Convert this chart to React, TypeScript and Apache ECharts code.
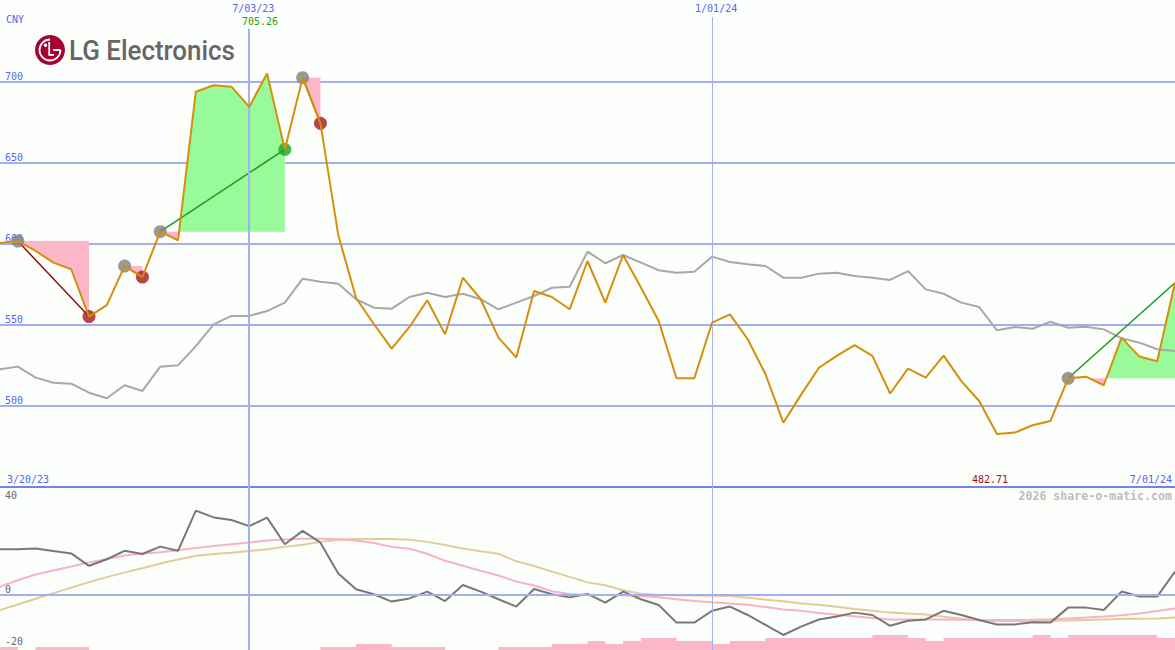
import React, { useEffect, useRef } from 'react';
import * as echarts from 'echarts';

// ---------- data (week index 0 = 3/20/23, 67 = 7/01/24) ----------
const startLabel = '3/20/23';
const endLabel = '7/01/24';
const currency = 'CNY';
const markerIdx = [15, 41];
const markerLabels = ['7/03/23', '1/01/24'];
const upperTicks = [500, 550, 600, 650, 700];
const lowerTicks = [-20, 0, 40];

const price = [598.0, 600.6, 601.8, 595.7, 588.5, 584.4, 555.2, 562.3, 586.4, 579.6,
  607.6, 602.3, 694.0, 698.0, 697.1, 684.6, 705.26, 658.4, 702.7, 674.5,
  605.6, 566.7, 550.6, 535.4, 548.8, 565.3, 544.3, 579.2, 565.9, 542.2,
  529.9, 571.0, 567.3, 559.7, 589.5, 563.8, 593.2, 573.1, 552.5, 517.1,
  517.1, 551.5, 556.6, 541.2, 519.6, 489.7, 507.0, 523.6, 530.9, 537.6,
  530.9, 507.7, 523.1, 517.5, 531.1, 515.4, 503.1, 482.71, 483.6, 488.1,
  490.7, 517.1, 518.1, 512.8, 542.2, 530.5, 527.6, 576.1];

const movingAvg = [523, 522.7, 524.3, 517.5, 514.4, 513.8, 508.2, 504.8, 512.8, 509.3,
  524.3, 525.1, 537.0, 550.4, 555.6, 555.6, 558.6, 563.8, 578.6, 576.7,
  575.5, 565.9, 560.7, 560.1, 567.3, 569.9, 567.3, 569.3, 565.9, 559.7,
  563.8, 567.9, 573.0, 573.6, 595.3, 588.1, 593.2, 588.5, 583.8, 582.3,
  582.9, 592.2, 588.9, 587.5, 586.4, 579.2, 579.2, 581.7, 582.3, 580.2,
  579.2, 577.8, 583.3, 572.0, 569.3, 563.8, 561.1, 546.7, 548.8, 547.7,
  552.0, 548.3, 548.9, 547.3, 541.8, 539.1, 535.0, 534.0];

const momentum = [17.5, 17.4, 17.4, 17.7, 16.7, 15.8, 11.1, 13.6, 16.8, 15.6,
  18.4, 16.8, 32.1, 29.5, 28.5, 26.2, 29.4, 19.3, 24.4, 19.9,
  8.2, 2.2, 0.3, -2.5, -1.3, 1.3, -2.3, 3.8, 1.3, -1.6,
  -4.4, 2.3, 0.3, -0.9, 0.4, -2.9, 1.3, -1.6, -3.8, -10.5,
  -10.5, -6.0, -4.4, -7.6, -11.4, -15.2, -12.0, -9.3, -8.2, -6.7,
  -7.6, -11.7, -9.8, -9.3, -6.0, -7.6, -9.5, -11.2, -11.2, -10.4,
  -10.5, -4.8, -4.8, -5.7, 1.3, -0.6, -0.6, 8.9];

const fastAvg = [1.0, 3.2, 5.6, 7.8, 9.3, 10.8, 12.4, 13.7, 15.0, 15.8,
  16.3, 17.0, 17.9, 18.6, 19.3, 20.0, 20.7, 21.1, 21.4, 21.4,
  21.2, 20.7, 19.8, 18.3, 17.6, 15.7, 13.0, 11.1, 9.2, 7.4,
  5.1, 3.6, 1.4, 0.4, 0, 0, -0.1, -0.4, -0.9, -1.6,
  -2.3, -2.8, -3.2, -3.7, -4.6, -5.5, -6.0, -6.8, -7.5, -8.1,
  -8.7, -9.3, -9.3, -9.3, -9.3, -9.4, -9.5, -9.5, -9.5, -9.4,
  -9.2, -8.9, -8.6, -8.2, -7.7, -7.0, -6.1, -5.1];

const slowAvg = [-8.0, -5.7, -3.6, -1.4, 0.7, 2.8, 4.9, 6.8, 8.6, 10.2,
  12.0, 13.5, 14.9, 15.6, 16.1, 16.7, 17.4, 18.3, 19.1, 20.2,
  21.0, 21.3, 21.3, 21.3, 21.0, 20.2, 19.0, 17.7, 16.6, 15.7,
  12.8, 11.0, 8.9, 6.9, 4.8, 3.7, 1.8, 0.5, 0, -0.1,
  -0.2, -0.3, -0.4, -1.0, -1.8, -2.4, -3.2, -3.7, -4.5, -5.3,
  -6.0, -6.7, -7.0, -7.4, -8.3, -9.0, -9.6, -9.9, -9.9, -9.9,
  -9.8, -9.7, -9.5, -9.3, -9.1, -9.0, -8.9, -8.6];

const volumeLevel = [1, 1, 0, 1, 1, 1, 0, 0, 0, 0, 0, 0, 0, 0, 0, 0, 0, 0, 0,
  1, 1, 2, 2, 1, 1, 1, 0, 0, 0, 1, 1, 1, 2, 2, 3, 2, 3, 4, 4,
  3, 3, 2, 3, 3, 4, 4, 4, 4, 4, 4, 5, 5, 4, 3, 4, 4, 4, 4, 4,
  5, 4, 5, 5, 5, 5, 5, 4, 4];

const tradeEntry = [2, 8, 10, 18, 61];
const tradeExit = [6, 9, 17, 19, 67];
const tradeClosed = [true, true, true, true, false];

// ---------- styles ----------
const BG = '#fcfefc';
const BLUE = '#5468ee';
const GRID = '#a3aff2';
const SEP = '#7383ea';
const ORANGE = '#d4900c';
const MA_GREY = '#a8a8a8';
const DARK = '#787878';
const PINK_LINE = '#f8b2c6';
const TAN = '#e4cb9b';
const PINK_FILL = '#fbb6c9';
const GREEN_FILL = '#98fa98';
const GREEN_LINE = '#1e9b1e';
const RED_LINE = '#8c1212';
const RED_DOT = '#a21a1a';
const GREEN_DOT = '#22a022';
const GREY_DOT = '#7f7f7f';
const MONO = '"DejaVu Sans Mono", monospace';

const idx = price.map((_, i) => i);
const pairs = (arr: number[]) => arr.map((v, i) => [idx[i], v]);

function tradeFill(a: number, b: number) {
  const e = price[a];
  const pts: number[][] = [];
  for (let i = a; i <= b; i++) {
    if (i > a) {
      const p0 = price[i - 1];
      const p1 = price[i];
      if ((p0 - e) * (p1 - e) < 0) {
        const t = (e - p0) / (p1 - p0);
        pts.push([i - 1 + t, e]);
      }
    }
    pts.push([i, price[i]]);
  }
  return {
    e,
    up: pts.map(([x, y]) => [x, Math.max(y, e)]),
    dn: pts.map(([x, y]) => [x, Math.min(y, e)]),
  };
}

function buildOption(): any {
  const series: any[] = [];
  tradeEntry.forEach((a, k) => {
    const f = tradeFill(a, tradeExit[k]);
    series.push({
      type: 'line', xAxisIndex: 0, yAxisIndex: 0, data: f.up, symbol: 'none', silent: true,
      lineStyle: { width: 0 }, areaStyle: { color: GREEN_FILL, opacity: 1, origin: f.e }, z: 1,
    });
    series.push({
      type: 'line', xAxisIndex: 0, yAxisIndex: 0, data: f.dn, symbol: 'none', silent: true,
      lineStyle: { width: 0 }, areaStyle: { color: PINK_FILL, opacity: 1, origin: f.e }, z: 1,
    });
  });

  series.push({
    type: 'line', xAxisIndex: 0, yAxisIndex: 0, data: pairs(movingAvg), symbol: 'none',
    lineStyle: { color: MA_GREY, width: 2 }, z: 2, silent: true,
    markLine: {
      silent: true, symbol: ['none', 'none'], label: { show: false },
      lineStyle: { color: GRID, type: 'solid' },
      data: markerIdx.map((v, k) => [
        { coord: [v, 450], lineStyle: { width: k === 0 ? 2 : 1, color: GRID, type: 'solid' } },
        { coord: [v, k === 0 ? 733 : 740] },
      ]),
    },
  });

  tradeEntry.forEach((a, k) => {
    const b = tradeExit[k];
    series.push({
      type: 'line', xAxisIndex: 0, yAxisIndex: 0, symbol: 'none', silent: true, z: 3,
      data: [[a, price[a]], [b, price[b]]],
      lineStyle: { color: price[b] >= price[a] ? GREEN_LINE : RED_LINE, width: 1.5 },
    });
  });

  const dots: any[] = [];
  tradeEntry.forEach((a, k) => {
    dots.push({ value: [a, price[a]], itemStyle: { color: GREY_DOT } });
    if (tradeClosed[k]) {
      const b = tradeExit[k];
      dots.push({ value: [b, price[b]], itemStyle: { color: price[b] >= price[a] ? GREEN_DOT : RED_DOT } });
    }
  });
  series.push({ type: 'scatter', xAxisIndex: 0, yAxisIndex: 0, data: dots, symbolSize: 13, z: 4, silent: true });

  series.push({
    type: 'line', xAxisIndex: 0, yAxisIndex: 0, data: pairs(price), symbol: 'none',
    lineStyle: { color: ORANGE, width: 2 }, z: 5, silent: true,
  });

  // lower panel
  series.push({
    type: 'line', xAxisIndex: 1, yAxisIndex: 1, data: pairs(slowAvg), symbol: 'none',
    lineStyle: { color: TAN, width: 2 }, z: 2, silent: true,
    markLine: {
      silent: true, symbol: ['none', 'none'], label: { show: false },
      lineStyle: { color: GRID, width: 2, type: 'solid' },
      data: [{ yAxis: 0 }],
    },
  });
  series.push({
    type: 'line', xAxisIndex: 1, yAxisIndex: 1, data: pairs(fastAvg), symbol: 'none',
    lineStyle: { color: PINK_LINE, width: 2 }, z: 3, silent: true,
  });
  series.push({
    type: 'line', xAxisIndex: 1, yAxisIndex: 1, data: pairs(momentum), symbol: 'none',
    lineStyle: { color: DARK, width: 2 }, z: 4, silent: true,
  });
  series.push({
    type: 'line', xAxisIndex: 2, yAxisIndex: 3, data: pairs(volumeLevel), symbol: 'none', step: 'end',
    lineStyle: { width: 0 }, areaStyle: { color: PINK_FILL, opacity: 1 }, z: 1, silent: true,
    markLine: {
      silent: true, symbol: ['none', 'none'], label: { show: false },
      data: markerIdx.map((v, k) => ({ xAxis: v, lineStyle: { color: GRID, width: k === 0 ? 2 : 1, type: 'solid' } })),
    },
  });

  const hiddenX = (g: number) => ({
    type: 'value', gridIndex: g, min: 1, max: 67, show: false,
  });

  const lowerAxis = (showPositive: boolean) => ({
    type: 'value', gridIndex: 1, min: -20, max: 40, interval: 20, position: 'left', offset: 0,
    axisLine: { show: false }, axisTick: { show: false }, splitLine: { show: false },
    axisLabel: {
      inside: true, margin: 5, verticalAlign: showPositive ? 'top' : 'bottom', color: '#666',
      fontFamily: MONO, fontSize: 10, lineHeight: 10,
      padding: showPositive ? [1, 0, 0, 0] : [0, 0, 1, 0],
      formatter: (v: number) => (lowerTicks.includes(v) && (v > 0) === showPositive ? String(v) : ''),
    },
  });

  return {
    animation: false,
    backgroundColor: BG,
    grid: [
      { left: 0, right: 0, top: 0, height: 487 },
      { left: 0, right: 0, top: 489.8, height: 157.8 },
      { left: 0, right: 0, top: 487, height: 163 },
    ],
    xAxis: [
      {
        type: 'value', gridIndex: 0, min: 1, max: 67, position: 'bottom',
        axisLine: { show: true, onZero: false, lineStyle: { color: SEP, width: 2 } },
        axisTick: { show: false }, axisLabel: { show: false }, splitLine: { show: false },
      },
      hiddenX(1),
      hiddenX(2),
    ],
    yAxis: [
      {
        type: 'value', gridIndex: 0, min: 450, max: 750, interval: 50, position: 'left',
        axisLine: { show: false }, axisTick: { show: false },
        splitLine: { show: true, showMinLine: false, showMaxLine: false, lineStyle: { color: GRID, width: 2 } },
        axisLabel: {
          inside: true, margin: 5, verticalAlign: 'bottom', color: BLUE, fontFamily: MONO, fontSize: 10,
          lineHeight: 10, padding: [0, 0, 1, 0],
          formatter: (v: number) => (upperTicks.includes(v) ? String(v) : ''),
        },
      },
      lowerAxis(false),
      lowerAxis(true),
      { type: 'value', gridIndex: 2, min: 0, max: 163 / 3, show: false },
    ],
    series,
  };
}

function buildGraphic(px: (i: number) => number): any[] {
  let maxI = 0;
  let minI = 0;
  price.forEach((v, i) => {
    if (i >= 1 && v > price[maxI]) maxI = i;
    if (i >= 1 && v < price[minI]) minI = i;
  });
  const txt = (x: number, y: number, text: string, fill: string, align = 'left', extra: any = {}) => ({
    type: 'text', x, y, silent: true, z: 100,
    style: { text, fill, fontFamily: MONO, fontSize: 10, align, verticalAlign: 'middle', ...extra },
  });
  const W = 'rgba(255,255,255,1)';
  return [
    txt(6, 19, currency, BLUE),
    ...markerIdx.map((v, k) => txt(px(v) + 4, 8, markerLabels[k], BLUE, 'center')),
    txt(px(maxI) - 7, 21, price[maxI].toFixed(2), '#22a022', 'center'),
    txt(7, 479, startLabel, BLUE),
    txt(px(minI) - 7, 479, price[minI].toFixed(2), '#a01010', 'center'),
    txt(1172, 479, endLabel, BLUE, 'right'),
    txt(1172, 496, '2026 share-o-matic.com', '#bdbdbd', 'right', { fontSize: 11.6, fontWeight: 'bold' }),
    {
      type: 'group', x: 50, y: 50, silent: true, z: 100,
      children: [
        { type: 'circle', shape: { cx: 0, cy: 0, r: 15 }, style: { fill: '#a50034' } },
        {
          type: 'arc', shape: { cx: 0, cy: 0, r: 10.5, startAngle: 0, endAngle: Math.PI * 1.5, clockwise: true },
          style: { stroke: W, lineWidth: 1.8, fill: 'none' },
        },
        { type: 'line', shape: { x1: 3, y1: 0, x2: 10.5, y2: 0 }, style: { stroke: W, lineWidth: 1.8 } },
        { type: 'circle', shape: { cx: -4.5, cy: -4.8, r: 1.7 }, style: { fill: W } },
        {
          type: 'polyline', shape: { points: [[-0.8, -8], [-0.8, 4.8], [4, 4.8]] },
          style: { stroke: W, lineWidth: 1.8, fill: 'none' },
        },
      ],
    },
    {
      type: 'text', x: 69, y: 50, silent: true, z: 100, scaleX: 0.96,
      style: {
        text: 'LG Electronics', fill: '#666666', fontFamily: 'Roboto', fontWeight: 500, fontSize: 27,
        align: 'left', verticalAlign: 'middle',
      },
    },
  ];
}

export default function App() {
  const ref = useRef<HTMLDivElement>(null);
  useEffect(() => {
    const chart = echarts.init(ref.current!, null, { renderer: 'svg' });
    chart.setOption(buildOption());
    const px = (i: number) => chart.convertToPixel({ xAxisIndex: 0 } as any, i) as unknown as number;
    chart.setOption({ graphic: buildGraphic(px) });
    return () => chart.dispose();
  }, []);
  return (
    <div
      ref={ref}
      style={{ position: 'fixed', left: 0, top: 0, width: 1175, height: 650, background: BG }}
    />
  );
}
